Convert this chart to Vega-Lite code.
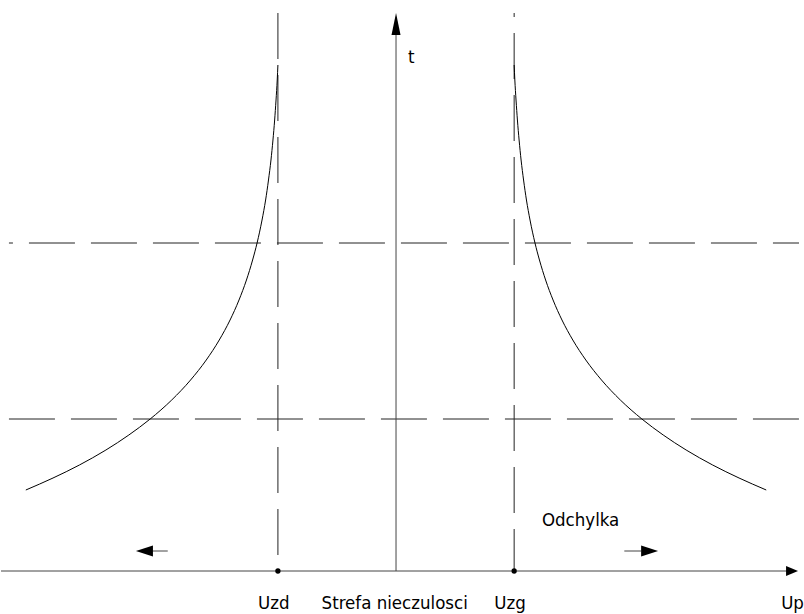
{
  "$schema": "https://vega.github.io/schema/vega-lite/v6.json",
  "autosize": {"type": "fit", "contains": "padding"},
  "width": 804,
  "height": 614,
  "padding": 0,
  "background": "white",
  "config": {"view": {"stroke": null}},
  "datasets": {
    "curves": [
      {"side": "L", "U": 279.0, "t": 549}, {"side": "L", "U": 278.3, "t": 534}, {"side": "L", "U": 277.1, "t": 514},
      {"side": "L", "U": 275.7, "t": 494}, {"side": "L", "U": 274.0, "t": 474}, {"side": "L", "U": 272.0, "t": 454},
      {"side": "L", "U": 269.5, "t": 434}, {"side": "L", "U": 266.6, "t": 414}, {"side": "L", "U": 263.0, "t": 394},
      {"side": "L", "U": 258.0, "t": 371}, {"side": "L", "U": 253.5, "t": 354}, {"side": "L", "U": 247.3, "t": 334},
      {"side": "L", "U": 239.8, "t": 314}, {"side": "L", "U": 230.8, "t": 294}, {"side": "L", "U": 219.9, "t": 274},
      {"side": "L", "U": 206.8, "t": 254}, {"side": "L", "U": 191.0, "t": 234}, {"side": "L", "U": 172.0, "t": 214},
      {"side": "L", "U": 150.3, "t": 195}, {"side": "L", "U": 128.8, "t": 179}, {"side": "L", "U": 105.7, "t": 164},
      {"side": "L", "U": 79.0, "t": 149}, {"side": "L", "U": 52.4, "t": 136}, {"side": "L", "U": 25.0, "t": 124},
      {"side": "R", "U": 517.0, "t": 549}, {"side": "R", "U": 517.7, "t": 534}, {"side": "R", "U": 518.9, "t": 514},
      {"side": "R", "U": 520.3, "t": 494}, {"side": "R", "U": 522.0, "t": 474}, {"side": "R", "U": 524.0, "t": 454},
      {"side": "R", "U": 526.5, "t": 434}, {"side": "R", "U": 529.4, "t": 414}, {"side": "R", "U": 533.0, "t": 394},
      {"side": "R", "U": 538.0, "t": 371}, {"side": "R", "U": 542.5, "t": 354}, {"side": "R", "U": 548.7, "t": 334},
      {"side": "R", "U": 556.2, "t": 314}, {"side": "R", "U": 565.2, "t": 294}, {"side": "R", "U": 576.1, "t": 274},
      {"side": "R", "U": 589.2, "t": 254}, {"side": "R", "U": 605.0, "t": 234}, {"side": "R", "U": 624.0, "t": 214},
      {"side": "R", "U": 645.7, "t": 195}, {"side": "R", "U": 667.2, "t": 179}, {"side": "R", "U": 690.3, "t": 164},
      {"side": "R", "U": 717.0, "t": 149}, {"side": "R", "U": 743.6, "t": 136}, {"side": "R", "U": 771.0, "t": 124}
    ],
    "dashA": [
      {"name": "t1", "U": 8, "U2": 804, "t": 371, "t2": 371},
      {"name": "Uzg", "U": 517, "U2": 517, "t": 601, "t2": 43}
    ],
    "dashB": [
      {"name": "t2", "U": 8, "U2": 804, "t": 195, "t2": 195},
      {"name": "Uzd", "U": 279, "U2": 279, "t": 601, "t2": 43}
    ],
    "axes": [
      {"name": "Up", "U": 0, "U2": 797, "t": 43, "t2": 43},
      {"name": "t", "U": 398, "U2": 398, "t": 43, "t2": 588},
      {"name": "left", "U": 152, "U2": 168, "t": 63, "t2": 63},
      {"name": "right", "U": 628, "U2": 645, "t": 63, "t2": 63}
    ],
    "points": [
      {"name": "Uzd", "U": 279, "t": 43},
      {"name": "Uzg", "U": 517, "t": 43}
    ],
    "headUp": [{"U": 398, "t": 590}],
    "headAxisRight": [{"U": 797, "t": 43}],
    "headSmallRight": [{"U": 653.5, "t": 63}],
    "headSmallLeft": [{"U": 144.5, "t": 63}],
    "labels": [
      {"text": "Uzd", "U": 259, "t": 5},
      {"text": "Strefa nieczulosci", "U": 323, "t": 5},
      {"text": "Uzg", "U": 497, "t": 5},
      {"text": "Up", "U": 786, "t": 5},
      {"text": "Odchylka", "U": 545, "t": 88},
      {"text": "t", "U": 410, "t": 551}
    ]
  },
  "encoding": {
    "x": {"field": "U", "type": "quantitative", "scale": {"domain": [0, 804], "nice": false, "zero": false}, "axis": null},
    "y": {"field": "t", "type": "quantitative", "scale": {"domain": [0, 614], "nice": false, "zero": false}, "axis": null}
  },
  "layer": [
    {
      "data": {"name": "dashA"},
      "mark": {"type": "rule", "color": "#222", "strokeWidth": 1, "strokeDash": [46, 16], "strokeDashOffset": 42},
      "encoding": {"x2": {"field": "U2"}, "y2": {"field": "t2"}}
    },
    {
      "data": {"name": "dashB"},
      "mark": {"type": "rule", "color": "#222", "strokeWidth": 1, "strokeDash": [46, 16], "strokeDashOffset": 0},
      "encoding": {"x2": {"field": "U2"}, "y2": {"field": "t2"}}
    },
    {
      "data": {"name": "axes"},
      "mark": {"type": "rule", "color": "#444", "strokeWidth": 1},
      "encoding": {"x2": {"field": "U2"}, "y2": {"field": "t2"}}
    },
    {
      "data": {"name": "curves"},
      "mark": {"type": "line", "color": "#000", "strokeWidth": 1, "interpolate": "monotone"},
      "encoding": {"detail": {"field": "side"}, "order": {"field": "t", "type": "quantitative"}}
    },
    {
      "data": {"name": "points"},
      "mark": {"type": "point", "filled": true, "color": "#000", "size": 28, "opacity": 1}
    },
    {
      "data": {"name": "headUp"},
      "mark": {"type": "point", "filled": true, "color": "#000", "opacity": 1, "size": 484, "shape": "M0,-1L0.41,1L-0.41,1Z"}
    },
    {
      "data": {"name": "headAxisRight"},
      "mark": {"type": "point", "filled": true, "color": "#000", "opacity": 1, "size": 144, "shape": "M1,0L-1,-0.83L-1,0.83Z"}
    },
    {
      "data": {"name": "headSmallRight"},
      "mark": {"type": "point", "filled": true, "color": "#000", "opacity": 1, "size": 289, "shape": "M1,0L-1,-0.65L-1,0.65Z"}
    },
    {
      "data": {"name": "headSmallLeft"},
      "mark": {"type": "point", "filled": true, "color": "#000", "opacity": 1, "size": 289, "shape": "M-1,0L1,-0.65L1,0.65Z"}
    },
    {
      "data": {"name": "labels"},
      "mark": {"type": "text", "align": "left", "baseline": "alphabetic", "font": "DejaVu Sans Condensed, Liberation Sans, sans-serif", "fontSize": 18.5, "color": "#000"},
      "encoding": {"text": {"field": "text"}}
    }
  ]
}
